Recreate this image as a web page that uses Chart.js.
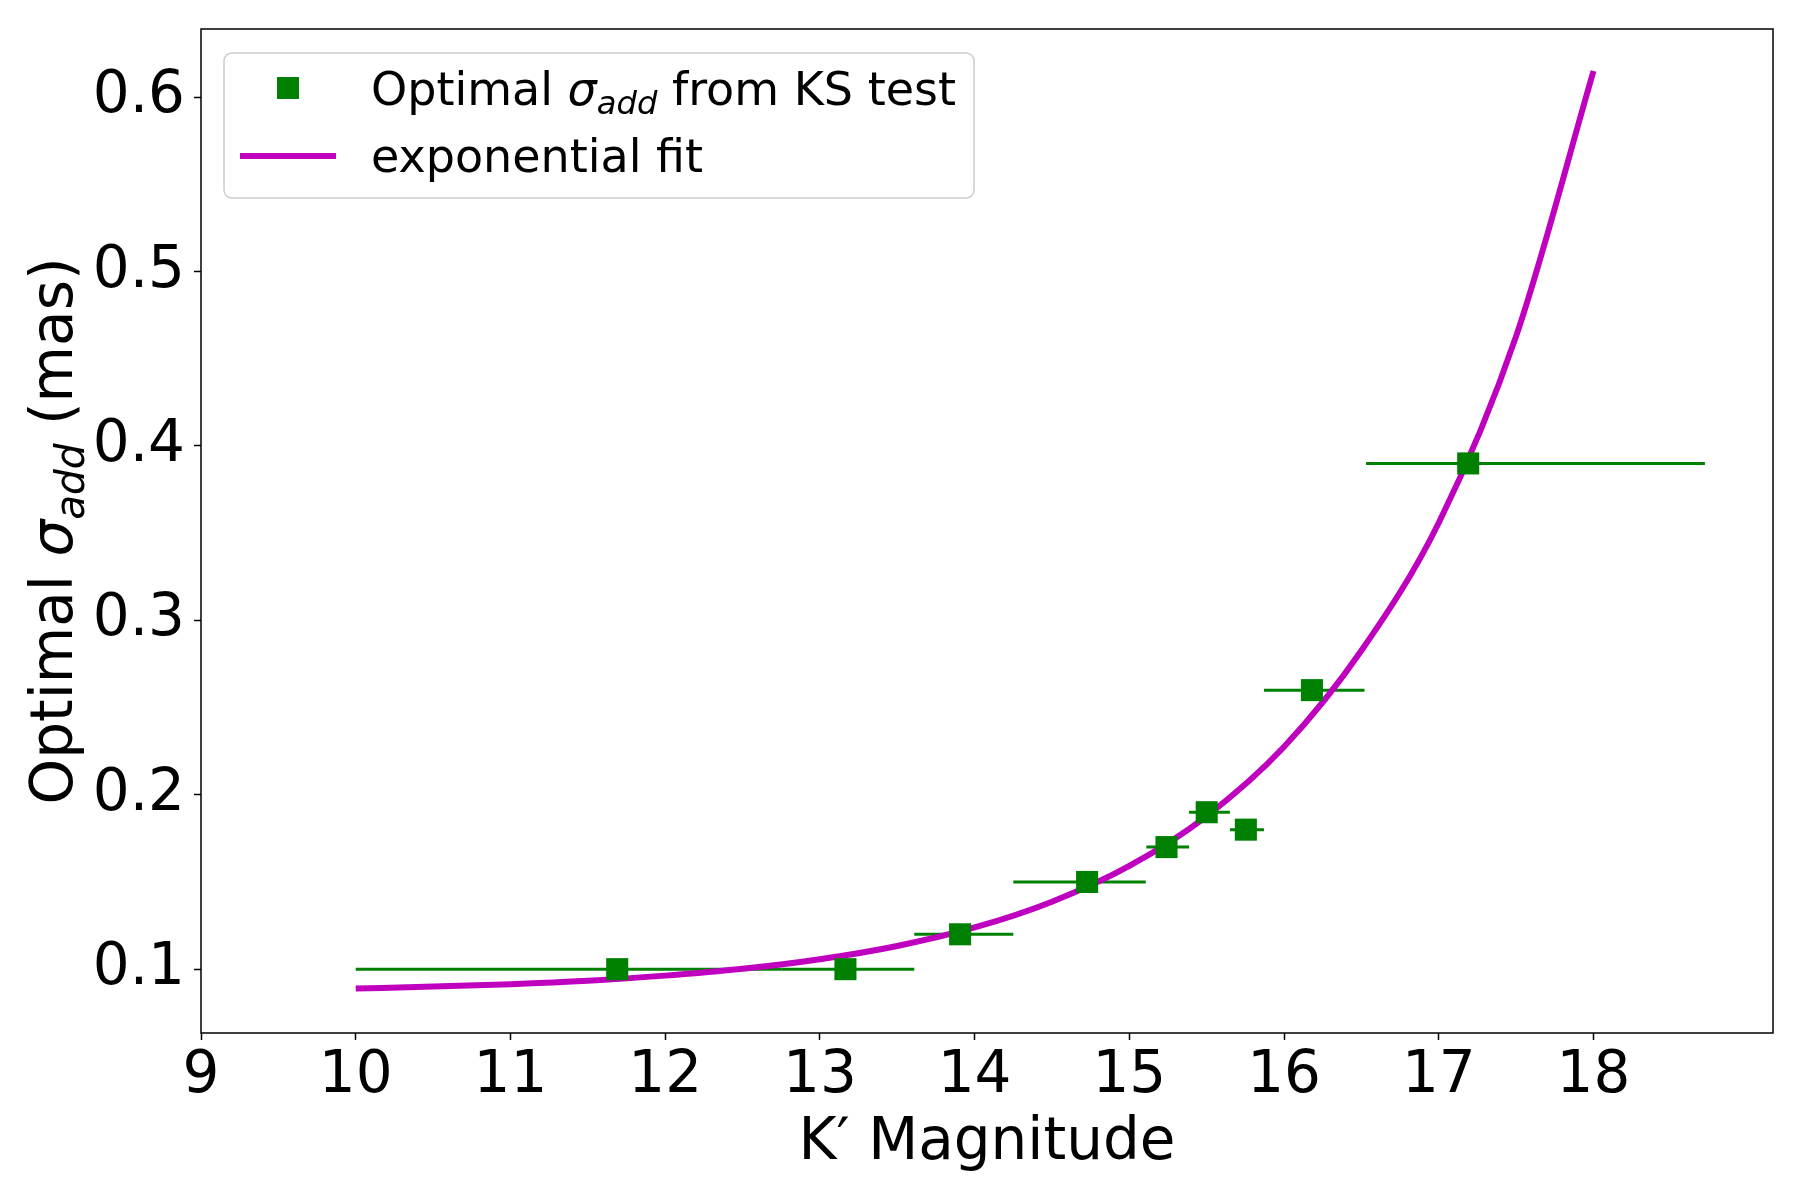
<!DOCTYPE html>
<html>
<head>
<meta charset="utf-8">
<script src="https://cdn.jsdelivr.net/npm/chart.js@4.4.1/dist/chart.umd.min.js"></script>
<style>
  html, body { margin: 0; padding: 0; background: #fff; }
  #wrap { width: 1800px; height: 1200px; }
</style>
</head>
<body>
<div id="wrap"><canvas id="grafico" width="1800" height="1200"></canvas></div>
<script>
// -------------------------
// Data
// -------------------------
const magnitudes = [11.69, 13.165, 13.906, 14.727, 15.24, 15.50, 15.753, 16.18, 17.19];
const sigmaAdd   = [0.10, 0.10, 0.12, 0.15, 0.17, 0.19, 0.18, 0.26, 0.39];
// horizontal extent of each bin (error bars)
const binLow  = [10.0, 12.75, 13.61, 14.25, 15.11, 15.386, 15.65, 15.87, 16.53];
const binHigh = [12.75, 13.61, 14.25, 15.106, 15.386, 15.65, 15.87, 16.52, 18.72];

// exponential fit, sampled from the drawn curve
const fitMag   = [10, 10.5, 11, 11.5, 12, 12.5, 13, 13.5, 14, 14.5, 15, 15.5, 16, 16.5, 17, 17.5, 18];
const fitSigma = [0.0889, 0.0900, 0.0914, 0.0934, 0.0963, 0.1002, 0.1057, 0.1133, 0.1239,
                  0.1387, 0.1592, 0.1878, 0.2275, 0.2827, 0.3560, 0.4630, 0.6150];

const xTicks = [9, 10, 11, 12, 13, 14, 15, 16, 17, 18];
const yTicks = [0.1, 0.2, 0.3, 0.4, 0.5, 0.6];

const verde = "#008000";
const magenta = "#bf00bf";
const fonte = '"DejaVu Sans", "Liberation Sans", sans-serif';

// -------------------------
// Helpers
// -------------------------
// draws a run of text pieces (for the sigma_add subscript) centred or left aligned
function textoComposto(ctx, partes, x, y, centrar) {
  let total = 0;
  partes.forEach(p => { ctx.font = p.f; total += ctx.measureText(p.t).width; });
  let cx = centrar ? x - total / 2 : x;
  ctx.textBaseline = "alphabetic";
  ctx.textAlign = "left";
  partes.forEach(p => {
    ctx.font = p.f;
    ctx.fillText(p.t, cx, y + (p.dy || 0));
    cx += ctx.measureText(p.t).width;
  });
}

function rotuloSigma(tam) {
  return [
    { t: "Optimal ", f: `${tam}px ${fonte}` },
    { t: "σ", f: `italic ${tam}px ${fonte}` },
    { t: "add", f: `italic ${(tam * 0.7).toFixed(1)}px ${fonte}`, dy: tam * 0.2 }
  ];
}

// -------------------------
// Plugin: error bars, frame, axis titles, legend
// -------------------------
const extras = {
  id: "extras",
  beforeDatasetsDraw(chart) {
    const { ctx, scales: { x, y } } = chart;
    ctx.save();
    ctx.strokeStyle = verde;
    ctx.lineWidth = 3;
    magnitudes.forEach((m, i) => {
      const py = y.getPixelForValue(sigmaAdd[i]);
      ctx.beginPath();
      ctx.moveTo(x.getPixelForValue(binLow[i]), py);
      ctx.lineTo(x.getPixelForValue(binHigh[i]), py);
      ctx.stroke();
    });
    ctx.restore();
  },
  afterDraw(chart) {
    const { ctx, chartArea: a } = chart;
    ctx.save();

    // frame
    ctx.strokeStyle = "#000";
    ctx.lineWidth = 1.5;
    ctx.strokeRect(a.left, a.top, a.right - a.left, a.bottom - a.top);

    ctx.fillStyle = "#000";
    // x title
    ctx.font = `58px ${fonte}`;
    ctx.textAlign = "center";
    ctx.textBaseline = "alphabetic";
    ctx.fillText("K\u2032 Magnitude", (a.left + a.right) / 2, 1159);

    // y title
    ctx.save();
    ctx.translate(72, (a.top + a.bottom) / 2);
    ctx.rotate(-Math.PI / 2);
    textoComposto(ctx, rotuloSigma(58).concat([{ t: " (mas)", f: `58px ${fonte}` }]), 0, 0, true);
    ctx.restore();

    // legend box
    ctx.beginPath();
    ctx.roundRect(224, 53, 750, 145, 8);
    ctx.fillStyle = "rgba(255,255,255,0.8)";
    ctx.fill();
    ctx.strokeStyle = "#cccccc";
    ctx.lineWidth = 1.5;
    ctx.stroke();

    ctx.fillStyle = verde;
    ctx.fillRect(288 - 11, 88 - 11, 22, 22);
    ctx.strokeStyle = magenta;
    ctx.lineWidth = 6;
    ctx.beginPath();
    ctx.moveTo(240, 156);
    ctx.lineTo(336, 156);
    ctx.stroke();

    ctx.fillStyle = "#000";
    textoComposto(ctx, rotuloSigma(46).concat([{ t: " from KS test", f: `46px ${fonte}` }]), 371, 105, false);
    ctx.font = `46px ${fonte}`;
    ctx.fillText("exponential fit", 371, 172);

    ctx.restore();
  }
};

// -------------------------
// Chart
// -------------------------
const ctx = document.getElementById("grafico").getContext("2d");

new Chart(ctx, {
  type: "scatter",
  data: {
    datasets: [
      {
        label: "Optimal σadd from KS test",
        data: magnitudes.map((m, i) => ({ x: m, y: sigmaAdd[i] })),
        pointStyle: "rect",
        pointRadius: 15.6,
        pointHoverRadius: 15.6,
        backgroundColor: verde,
        borderColor: verde,
        borderWidth: 0,
        order: 0
      },
      {
        type: "line",
        label: "exponential fit",
        data: fitMag.map((m, i) => ({ x: m, y: fitSigma[i] })),
        borderColor: magenta,
        borderWidth: 6,
        pointRadius: 0,
        fill: false,
        cubicInterpolationMode: "monotone",
        order: 1
      }
    ]
  },
  options: {
    responsive: false,
    animation: false,
    devicePixelRatio: 1,
    layout: { padding: { top: 29, right: 27, left: 0, bottom: 0 } },
    plugins: {
      legend: { display: false },
      tooltip: { enabled: false }
    },
    scales: {
      x: {
        type: "linear",
        min: 9,
        max: 19.16,
        afterBuildTicks: axis => { axis.ticks = xTicks.map(v => ({ value: v })); },
        afterFit: axis => { axis.height = 167; axis.paddingLeft = 0; axis.paddingRight = 0; },
        border: { display: false },
        grid: {
          drawOnChartArea: false,
          drawTicks: true,
          tickLength: 7,
          tickWidth: 1.5,
          tickColor: "#000"
        },
        ticks: {
          color: "#000",
          font: { family: fonte, size: 58 },
          padding: 2,
          maxRotation: 0,
          autoSkip: false,
          callback: v => String(v)
        }
      },
      y: {
        type: "linear",
        min: 0.0634,
        max: 0.6391,
        afterBuildTicks: axis => { axis.ticks = yTicks.map(v => ({ value: v })); },
        afterFit: axis => { axis.width = 201; axis.paddingTop = 0; axis.paddingBottom = 0; },
        border: { display: false },
        grid: {
          drawOnChartArea: false,
          drawTicks: true,
          tickLength: 7,
          tickWidth: 1.5,
          tickColor: "#000"
        },
        ticks: {
          color: "#000",
          font: { family: fonte, size: 58 },
          padding: 9,
          autoSkip: false,
          callback: v => v.toFixed(1)
        }
      }
    }
  },
  plugins: [extras]
});
</script>
</body>
</html>
